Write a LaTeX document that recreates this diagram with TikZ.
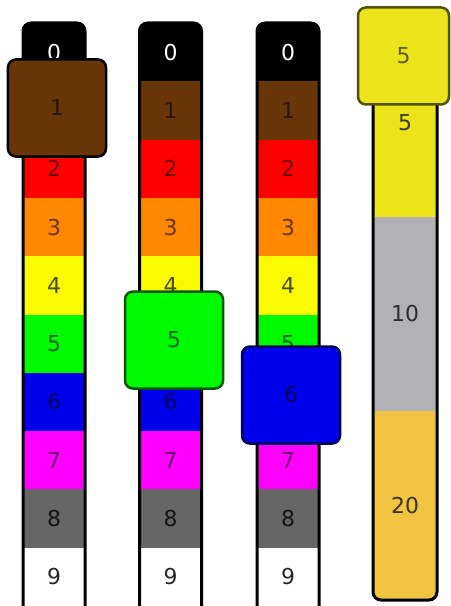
\documentclass[tikz,border=0pt]{standalone}
\usepackage{fontspec}
\setmainfont{DejaVu Sans}
\usetikzlibrary{positioning}

\definecolor{cbrown}{RGB}{104,54,8}
\definecolor{corange}{RGB}{255,136,0}
\definecolor{cyellow}{RGB}{250,250,0}
\definecolor{cgreen}{RGB}{0,250,0}
\definecolor{cblue}{RGB}{0,0,235}
\definecolor{cmagenta}{RGB}{255,0,255}
\definecolor{cgray}{RGB}{102,102,102}
\definecolor{tyellow}{RGB}{236,228,26}
\definecolor{tsilver}{RGB}{178,178,182}
\definecolor{tgold}{RGB}{240,196,64}

\begin{document}
\begin{tikzpicture}[x=1bp,y=-1bp,
  cell/.style={minimum width=\colW bp, minimum height=\rowH bp, inner sep=0pt,
    font=\fontsize{22}{22}\selectfont},
  pop/.style={rounded corners=8bp, minimum width=98bp, minimum height=97bp,
    line width=2.5bp, inner sep=0pt, text=black, text opacity=0.6,
    font=\fontsize{22}{22}\selectfont},
  rim/.style={line width=3bp, rounded corners=8bp}]
  \def\colW{62}
  \def\rowH{58.3}
  \def\topY{23}

  \clip (0,0) rectangle (451,606);
  \fill[white] (0,0) rectangle (451,606);

  % Colour code columns (the digit under each selected band is hidden by it)
  \foreach \col/\x/\hid in {1/54/1,2/170.5/5,3/288/6} {
    \begin{scope}
      \clip[rounded corners=8bp] (\x-31,\topY) rectangle (\x+31,650);
      \foreach \c/\t/\o [count=\i from 0] in {black/white/1,cbrown/black/0.6,red/black/0.6,
          corange/black/0.6,cyellow/black/0.7,cgreen/black/0.6,cblue/black/0.6,
          cmagenta/black/0.6,cgray/black/0.8,white/black/0.85} {
        \node[cell, fill=\c, text=\t, text opacity=\o] (c\col r\i)
          at (\x,{\topY+(\i+0.5)*\rowH}) {\ifnum\i=\hid\else\i\fi};
      }
    \end{scope}
    \draw[rim] (\x-31,650) -- (\x-31,\topY) -- (\x+31,\topY) -- (\x+31,650);
  }

  % Tolerance column
  \begin{scope}
    \clip[rounded corners=8bp] (373,28) rectangle (437,600);
    \node[cell, fill=tyellow, minimum width=64bp, minimum height=189bp, text opacity=0.75] (t5) at (405,122.5) {5};
    \node[cell, fill=tsilver, minimum width=64bp, minimum height=193bp, text opacity=0.75] (t10) at (405,314) {10};
    \node[cell, fill=tgold, minimum width=64bp, minimum height=190bp, text opacity=0.75] (t20) at (405,506) {20};
  \end{scope}
  \draw[rim] (373,28) rectangle (437,600);

  % Selected bands
  \node[pop, fill=cbrown, draw=black] (sel1) at (57,108) {1};
  \node[pop, fill=cgreen, draw=cgreen!35!black] (sel2) at (174,340) {5};
  \node[pop, fill=cblue, draw=cblue!40!black] (sel3) at (291,395) {6};
  \node[pop, fill=tyellow, draw=tyellow!35!black, minimum width=91bp] (sel4) at (403.5,56) {5};
\end{tikzpicture}
\end{document}
